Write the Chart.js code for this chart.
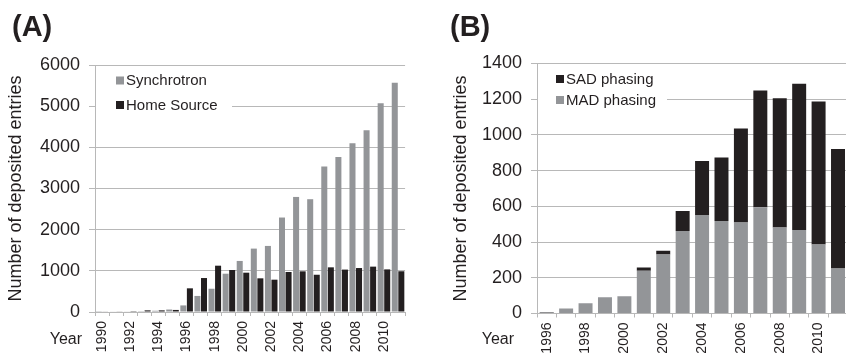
<!DOCTYPE html>
<html>
<head>
<meta charset="utf-8">
<script src="https://cdn.jsdelivr.net/npm/chart.js@4/dist/chart.umd.min.js"></script>
<style>
  html, body { margin: 0; padding: 0; background: #ffffff; overflow: hidden; width: 846px; height: 357px; }
  #wrapA { position: absolute; left: 0; top: 0; width: 420px; height: 357px; }
  #wrapB { position: absolute; left: 420px; top: 0; width: 440px; height: 357px; }
</style>
</head>
<body>
<div id="wrapA"><canvas id="chartA" width="420" height="357"></canvas></div>
<div id="wrapB"><canvas id="chartB" width="440" height="357"></canvas></div>
<script>
// Panel A: deposited entries by X-ray source
const yearsA = ['1990','1991','1992','1993','1994','1995','1996','1997','1998','1999','2000',
                '2001','2002','2003','2004','2005','2006','2007','2008','2009','2010','2011'];
const synchrotron = [5, 10, 15, 20, 30, 60, 160, 390, 565, 930, 1240, 1540, 1605, 2295, 2795, 2740,
                     3535, 3765, 4100, 4415, 5070, 5570];
const homeSource = [10, 15, 20, 40, 40, 50, 575, 825, 1125, 1020, 955, 818, 785, 972, 988, 905,
                    1085, 1030, 1068, 1102, 1035, 990];
const ticksA = [0, 1000, 2000, 3000, 4000, 5000, 6000];

// Panel B: entries solved by anomalous phasing
const yearsB = ['1996','1997','1998','1999','2000','2001','2002','2003','2004','2005','2006',
                '2007','2008','2009','2010','2011'];
const madPhasing = [5, 28, 58, 91, 97, 239, 330, 462, 552, 518, 509, 595, 481, 468, 386, 252];
const sadPhasing = [3, 0, 0, 0, 0, 18, 22, 112, 302, 356, 527, 654, 725, 818, 801, 669];
const ticksB = [0, 200, 400, 600, 800, 1000, 1200, 1400];

const FONT = "'Liberation Sans', Arial, sans-serif";
const TEXT = '#231f20';
const GRAY = '#939598';
const DARK = '#231f20';
const GRID = '#b8b8b8';

// Panel letter, "Year" caption and an in-plot legend with a white backing box
function decorations(cfg) {
  return {
    id: 'decor' + cfg.letter,
    afterDraw(chart) {
      const ctx = chart.ctx;
      const area = chart.chartArea;
      ctx.save();
      ctx.fillStyle = TEXT;
      ctx.font = 'bold 29px ' + FONT;
      ctx.textAlign = 'left';
      ctx.textBaseline = 'alphabetic';
      ctx.fillText('(' + cfg.letter + ')', cfg.letterX, 36);

      ctx.font = '16px ' + FONT;
      ctx.textAlign = 'right';
      ctx.textBaseline = 'middle';
      ctx.fillText('Year', cfg.yearX, 339.5);

      // legend box
      const lg = cfg.legend;
      ctx.fillStyle = '#ffffff';
      ctx.fillRect(area.left + 1, lg.boxTop, lg.boxRight - area.left - 1, lg.boxBottom - lg.boxTop);
      ctx.font = '15px ' + FONT;
      ctx.textAlign = 'left';
      ctx.textBaseline = 'middle';
      lg.items.forEach(it => {
        ctx.fillStyle = it.color;
        ctx.fillRect(lg.x, it.y - 4, 8, 8);
        ctx.fillStyle = TEXT;
        ctx.fillText(it.text, lg.x + 10, it.y + 0.5);
      });
      ctx.restore();
    }
  };
}

function xScale(labels, pad) {
  return {
    offset: true,
    afterFit(s) { s.height = pad; },
    grid: { display: true, drawOnChartArea: false, drawTicks: true, tickLength: 4, offset: true, color: GRID, lineWidth: 1 },
    border: { display: true, color: GRID, width: 1 },
    ticks: {
      autoSkip: false, maxRotation: 90, minRotation: 90, padding: 5,
      color: TEXT, font: { family: FONT, size: 14 },
      callback: (v, i) => (i % 2 === 0 ? labels[i] : '')
    }
  };
}

function yScale(tickVals, width, titlePad) {
  const max = tickVals[tickVals.length - 1];
  const step = tickVals[1] - tickVals[0];
  return {
    min: 0, max: max,
    afterFit(s) { s.width = width; },
    grid: { color: GRID, lineWidth: 1, drawTicks: true, tickLength: 6 },
    border: { display: true, color: GRID, width: 1 },
    ticks: {
      stepSize: step, padding: 9, color: TEXT, font: { family: FONT, size: 18 },
      callback: v => String(v)
    },
    title: {
      display: true, text: 'Number of deposited entries', color: TEXT,
      font: { family: FONT, size: 18 }, padding: { top: titlePad, bottom: 0 }
    }
  };
}

new Chart(document.getElementById('chartA'), {
  type: 'bar',
  data: {
    labels: yearsA,
    datasets: [
      { label: 'Synchrotron', data: synchrotron, backgroundColor: GRAY },
      { label: 'Home Source', data: homeSource, backgroundColor: DARK }
    ]
  },
  options: {
    responsive: false, animation: false,
    layout: { padding: { top: 65, right: 7, left: 0, bottom: 0 } },
    datasets: { bar: { categoryPercentage: 0.93, barPercentage: 0.92 } },
    plugins: { legend: { display: false }, tooltip: { enabled: false } },
    scales: { x: xScale(yearsA, 45), y: yScale(ticksA, 95, 5) }
  },
  plugins: [decorations({
    letter: 'A', letterX: 12, yearX: 82,
    legend: {
      x: 116, boxTop: 68, boxBottom: 114, boxRight: 232,
      items: [ { text: 'Synchrotron', color: GRAY, y: 80.5 },
               { text: 'Home Source', color: DARK, y: 105 } ]
    }
  })]
});

new Chart(document.getElementById('chartB'), {
  type: 'bar',
  data: {
    labels: yearsB,
    datasets: [
      { label: 'MAD phasing', data: madPhasing, backgroundColor: GRAY, stack: 'p' },
      { label: 'SAD phasing', data: sadPhasing, backgroundColor: DARK, stack: 'p' }
    ]
  },
  options: {
    responsive: false, animation: false,
    layout: { padding: { top: 63.5, right: 6, left: 0, bottom: 0 } },
    datasets: { bar: { categoryPercentage: 1, barPercentage: 0.72 } },
    plugins: { legend: { display: false }, tooltip: { enabled: false } },
    scales: {
      x: Object.assign(xScale(yearsB, 43.5), { stacked: true }),
      y: Object.assign(yScale(ticksB, 117, 30.5), { stacked: true })
    }
  },
  plugins: [decorations({
    letter: 'B', letterX: 30, yearX: 94,
    legend: {
      x: 136, boxTop: 66, boxBottom: 110, boxRight: 247,
      items: [ { text: 'SAD phasing', color: DARK, y: 79 },
               { text: 'MAD phasing', color: GRAY, y: 100 } ]
    }
  })]
});
</script>
</body>
</html>
